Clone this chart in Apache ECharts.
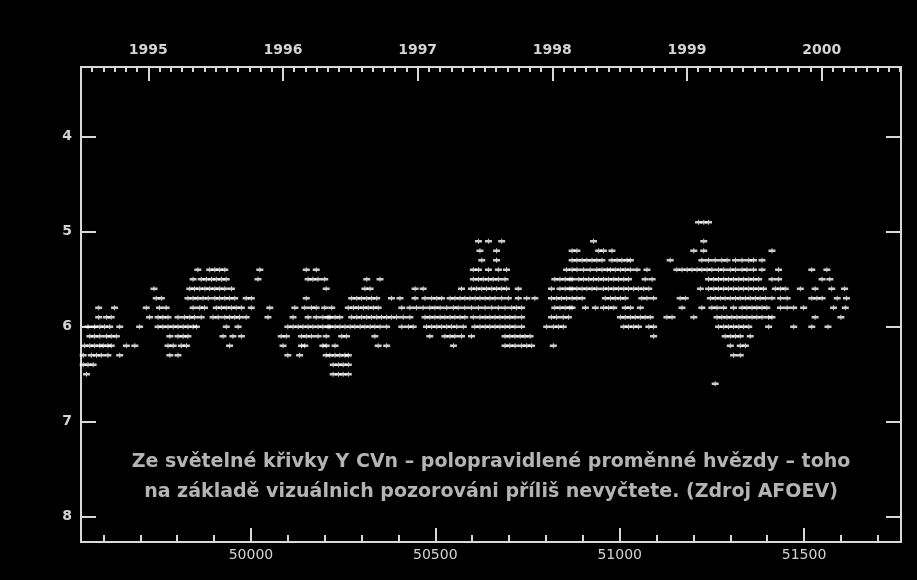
<!DOCTYPE html>
<html>
<head>
<meta charset="utf-8">
<script src="https://cdn.jsdelivr.net/npm/echarts@6/dist/echarts.min.js"></script>
<style>
html,body{margin:0;padding:0;background:#000;}
#chart{width:917px;height:580px;}
</style>
</head>
<body>
<div id="chart"></div>
<script>
// Y CVn visual magnitude estimates (AFOEV), grouped by magnitude row; values are JD - 2400000
const m49 = [51214, 51228, 51241];
const m51 = [50617, 50644, 50680, 50929, 51228];
const m52 = [50621, 50666, 50871, 50884, 50943, 50956, 50979, 51201, 51228, 51413];
const m53 = [50626, 50666, 50871, 50884, 50898, 50911, 50925, 50938, 50952, 50979, 50993, 51006, 51020, 51029, 51137, 51223, 51241, 51259, 51277, 51291, 51314, 51332, 51350, 51363, 51386];
const m54 = [49856, 49888, 49902, 49915, 49929, 50024, 50150, 50177,
  50603, 50617, 50644, 50671, 50693, 50856,
  50871, 50884, 50902, 50920, 50938, 50952, 50966, 50975, 50988, 51002, 51015, 51029, 51047, 51074, 51155, 51169, 51183, 51196, 51210, 51223, 51237, 51250, 51268, 51282, 51300, 51314, 51332, 51345, 51363, 51386, 51431, 51521, 51562];
const m55 = [49843, 49865, 49879, 49893, 49906, 49920, 49933, 50019, 50155, 50168, 50182, 50200,
  50314, 50350, 50603, 50617, 50630, 50644, 50657, 50671, 50689, 50824, 50838, 50852, 50865,
  50871, 50889, 50902, 50916, 50929, 50943, 50956, 50970, 50984, 50997, 51011, 51024, 51069, 51088, 51241, 51255, 51268, 51282, 51295, 51309, 51323, 51336, 51350, 51363, 51377, 51413, 51431, 51549, 51570];
const m56 = [49737, 49834, 49847, 49861, 49875, 49888, 49902, 49915, 49929, 49947, 50204,
  50309, 50323, 50445, 50467, 50571, 50598, 50612, 50626, 50639, 50653, 50666, 50680, 50693, 50725, 50815, 50838, 50852, 50865,
  50871, 50884, 50898, 50911, 50925, 50938, 50956, 50970, 50984, 50997, 51011, 51024, 51038, 51051, 51065, 51079, 51219, 51241, 51255, 51268, 51282, 51295, 51309, 51323, 51336, 51350, 51363, 51377, 51390, 51422, 51436, 51449, 51490, 51530, 51575, 51610];
const m57 = [49743, 49757, 49829, 49843, 49856, 49870, 49884, 49902, 49915, 49929, 49942, 49956, 49987, 50001, 50150,
  50273, 50287, 50300, 50314, 50327, 50341, 50381, 50404, 50445, 50472, 50490, 50504, 50517, 50540, 50553, 50567, 50580, 50594, 50608, 50621, 50635, 50648, 50662, 50680, 50698, 50725, 50748, 50770, 50815, 50829, 50842, 50856,
  50871, 50884, 50898, 50961, 50975, 50988, 51002, 51015, 51060, 51074, 51092, 51164, 51178, 51246, 51259, 51273, 51286, 51300, 51314, 51327, 51341, 51354, 51368, 51381, 51395, 51413, 51436, 51454, 51521, 51535, 51549, 51590, 51615];
const m58 = [49587, 49630, 49716, 49752, 49770, 49843, 49861, 49874, 49906, 49920, 49933, 49947, 49960, 49974, 50001, 50051, 50119, 50146, 50164, 50177, 50200,
  50219, 50264, 50278, 50291, 50305, 50318, 50332, 50345, 50409, 50431, 50449, 50467, 50485, 50499, 50513, 50531, 50549, 50562, 50580, 50598, 50617, 50635, 50653, 50671, 50689, 50707, 50720, 50734, 50824, 50838, 50852, 50865,
  50871, 50907, 50934, 50956, 50970, 50984, 51015, 51029, 51056, 51169, 51223, 51250, 51264, 51282, 51309, 51332, 51345, 51359, 51372, 51386, 51399, 51436, 51454, 51472, 51499, 51580, 51612];
const m59 = [49587, 49608, 49621, 49725, 49748, 49761, 49775, 49802, 49820, 49834, 49847, 49865, 49897, 49911, 49929, 49942, 49956, 49969, 49987, 50046, 50114, 50155, 50177, 50195, 50209,
  50214, 50228, 50241, 50273, 50287, 50300, 50314, 50327, 50341, 50354, 50368, 50381, 50395, 50413, 50431, 50472, 50485, 50499, 50513, 50526, 50540, 50553, 50567, 50580, 50603, 50621, 50635, 50648, 50662, 50675, 50689, 50702, 50716, 50734, 50815, 50829, 50847, 50861,
  51002, 51015, 51029, 51042, 51056, 51069, 51083, 51128, 51142, 51201, 51264, 51277, 51291, 51304, 51318, 51332, 51345, 51359, 51372, 51386, 51404, 51413, 51530, 51600];
const m60 = [49558, 49576, 49590, 49603, 49617, 49644, 49698, 49748, 49761, 49775, 49789, 49802, 49816, 49829, 49843, 49852, 49933, 49965, 50100, 50114, 50128, 50141, 50155, 50168, 50182, 50195, 50209,
  50214, 50228, 50241, 50255, 50269, 50282, 50296, 50309, 50323, 50336, 50350, 50368, 50409, 50427, 50440, 50476, 50490, 50504, 50517, 50531, 50544, 50558, 50576, 50607, 50621, 50635, 50648, 50662, 50675, 50689, 50702, 50716, 50734, 50802, 50820, 50834, 50847,
  51011, 51024, 51038, 51051, 51079, 51092, 51268, 51282, 51295, 51309, 51323, 51336, 51350, 51404, 51472, 51521, 51565];
const m61 = [49563, 49576, 49590, 49608, 49621, 49635, 49780, 49802, 49816, 49829, 49924, 49951, 49974, 50082, 50096, 50137, 50150, 50164, 50182, 50204,
  50246, 50259, 50336, 50485, 50526, 50540, 50553, 50571, 50598, 50689, 50702, 50716, 50730, 50743, 50757,
  51092, 51286, 51300, 51314, 51327, 51354];
const m62 = [49549, 49563, 49576, 49590, 49599, 49612, 49621, 49662, 49685, 49775, 49789, 49811, 49825, 49942, 50087, 50137, 50146, 50195, 50204,
  50228, 50345, 50368, 50549, 50689, 50702, 50716, 50734, 50748, 50761, 50820,
  51300, 51327, 51341];
const m63 = [49545, 49567, 49581, 49594, 49612, 49644, 49780, 49802, 50100, 50132, 50204,
  50214, 50228, 50241, 50255, 50264, 51309, 51327];
const m64 = [49545, 49558, 49572, 50223, 50237, 50250, 50264];
const m65 = [49554, 50223, 50237, 50250, 50264];
const m66 = [51259];

const rows = [[4.9, m49], [5.1, m51], [5.2, m52], [5.3, m53], [5.4, m54], [5.5, m55], [5.6, m56], [5.7, m57],
  [5.8, m58], [5.9, m59], [6.0, m60], [6.1, m61], [6.2, m62], [6.3, m63], [6.4, m64], [6.5, m65], [6.6, m66]];

const magTicks = [4, 5, 6, 7, 8];
const jdMajor = [50000, 50500, 51000, 51500];
const jdMinor = [49600, 49700, 49800, 49900, 50100, 50200, 50300, 50400, 50600, 50700, 50800, 50900, 51100, 51200, 51300, 51400, 51600, 51700];
const years = [1995, 1996, 1997, 1998, 1999, 2000];

const caption1 = 'Ze světelné křivky Y CVn – polopravidlené proměnné hvězdy – toho';
const caption2 = 'na základě vizuálnich pozorováni příliš nevyčtete. (Zdroj AFOEV)';

const JD_MIN = 49539, JD_MAX = 51763;
const toYear = jd => 1995 + (jd - 49721.5) / 365.25;
const months = [];
for (let y = 1994; y <= 2000; y++) for (let k = 1; k < 12; k++) months.push(y + k / 12);

const data = [];
rows.forEach(([m, arr]) => arr.forEach(jd => data.push([jd, m])));

const labelColor = '#d4d4d4';
const lineCol = '#d8d8d8';
const plain = v => String(Math.round(v));
const chart = echarts.init(document.getElementById('chart'), null, {renderer: 'canvas'});
chart.setOption({
  backgroundColor: '#000',
  animation: false,
  grid: {left: 81, top: 67, right: 16, bottom: 38, show: true, borderColor: lineCol, borderWidth: 2, backgroundColor: 'transparent'},
  xAxis: [
    {type: 'value', position: 'bottom', min: JD_MIN, max: JD_MAX, splitLine: {show: false}, axisLine: {show: false},
     axisTick: {show: true, inside: true, length: 14, customValues: jdMajor, lineStyle: {color: lineCol, width: 2}},
     axisLabel: {show: true, customValues: jdMajor, formatter: plain, margin: 6, color: labelColor, fontFamily: 'DejaVu Sans', fontSize: 14}},
    {type: 'value', position: 'bottom', min: JD_MIN, max: JD_MAX, splitLine: {show: false}, axisLine: {show: false},
     axisTick: {show: true, inside: true, length: 7, customValues: jdMinor, lineStyle: {color: lineCol, width: 2}},
     axisLabel: {show: false}},
    {type: 'value', position: 'top', min: toYear(JD_MIN), max: toYear(JD_MAX), splitLine: {show: false}, axisLine: {show: false},
     axisTick: {show: true, inside: true, length: 14, customValues: years, lineStyle: {color: lineCol, width: 2}},
     axisLabel: {show: true, customValues: years, formatter: plain, margin: 10, color: labelColor, fontFamily: 'DejaVu Sans', fontWeight: 'bold', fontSize: 14}},
    {type: 'value', position: 'top', min: toYear(JD_MIN), max: toYear(JD_MAX), splitLine: {show: false}, axisLine: {show: false},
     axisTick: {show: true, inside: true, length: 5, customValues: months, lineStyle: {color: lineCol, width: 2}},
     axisLabel: {show: false}}
  ],
  yAxis: [
    {type: 'value', position: 'left', inverse: true, min: 3.266, max: 8.266, splitLine: {show: false}, axisLine: {show: false},
     axisTick: {show: true, inside: true, length: 15, customValues: magTicks, lineStyle: {color: lineCol, width: 2}},
     axisLabel: {show: true, customValues: magTicks, formatter: plain, margin: 9, color: labelColor, fontFamily: 'DejaVu Sans', fontWeight: 'bold', fontSize: 14}},
    {type: 'value', position: 'right', inverse: true, min: 3.266, max: 8.266, splitLine: {show: false}, axisLine: {show: false},
     axisTick: {show: true, inside: true, length: 15, customValues: magTicks, lineStyle: {color: lineCol, width: 2}},
     axisLabel: {show: false}}
  ],
  graphic: [
    {type: 'text', x: 491, y: 453, style: {text: caption1, fill: '#b4b4b4', font: 'bold 19px "DejaVu Sans"', align: 'center'}},
    {type: 'text', x: 491, y: 483, style: {text: caption2, fill: '#b4b4b4', font: 'bold 19px "DejaVu Sans"', align: 'center'}}
  ],
  series: [{
    type: 'scatter', xAxisIndex: 0, yAxisIndex: 0, data: data,
    symbol: 'path://M0,1.3H7V3.7H0Z M3,0H4V5H3Z', symbolSize: [7, 5],
    itemStyle: {color: '#ffffff'}, silent: true
  }]
});
</script>
</body>
</html>
